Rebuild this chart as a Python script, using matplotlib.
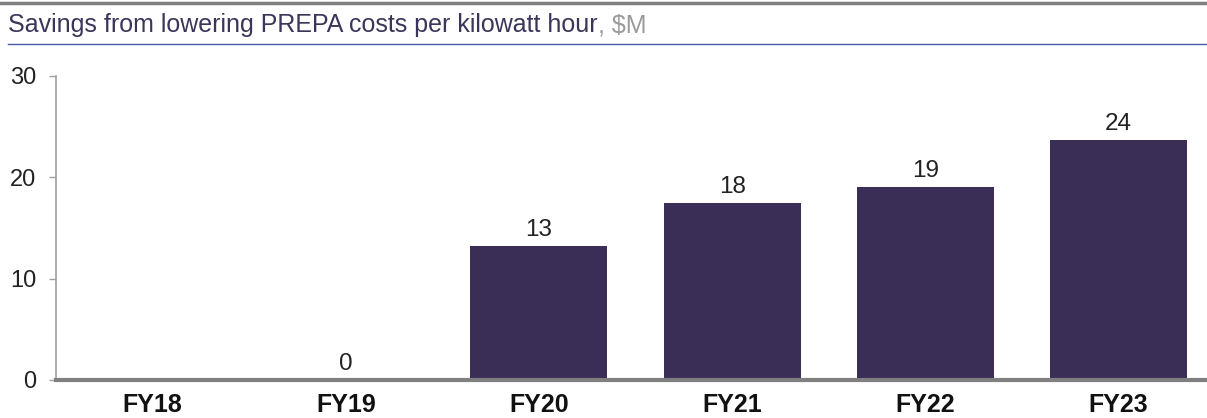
import matplotlib
matplotlib.use("Agg")
import matplotlib.pyplot as plt
import numpy as np

categories = ["FY18", "FY19", "FY20", "FY21", "FY22", "FY23"]
values = [np.nan, 0, 13.2, 17.5, 19.05, 23.7]
labels = ["", "0", "13", "18", "19", "24"]
yticks = [0, 10, 20, 30]

plt.rcParams['font.family'] = ['Liberation Sans', 'DejaVu Sans']

fig = plt.figure(figsize=(12.07, 4.18), dpi=100)
W, H = 1207, 418

# top gray rule
fig.add_artist(plt.Line2D([0, 1], [1 - 3/H, 1 - 3/H], color="#7f7f7f", lw=2.5, transform=fig.transFigure))
# title
t = fig.text(8/W, 1 - 25/H, "Savings from lowering PREPA costs per kilowatt hour", color="#3b3659",
             fontsize=18, va="center", ha="left")
fig.canvas.draw()
bb = t.get_window_extent()
fig.text(bb.x1 / W, 1 - 25/H, ", $M", color="#9a9a9a", fontsize=18, va="center", ha="left")
# blue underline
fig.add_artist(plt.Line2D([8/W, 1], [1 - 44/H, 1 - 44/H], color="#4a58a8", lw=1.0, transform=fig.transFigure))

left, right = 56/W, 1215/W
bottom, top = 1 - 380/H, 1 - 76/H
ax = fig.add_axes([left, bottom, right - left, top - bottom])
x = np.arange(len(categories))
ax.bar(x, values, width=0.71, color="#3a2d56", zorder=2)
for xi, v, lab in zip(x, values, labels):
    if lab:
        ax.text(xi, (0 if np.isnan(v) else v) + 0.5, lab, ha="center", va="bottom", fontsize=17.5, color="#222222")

ax.set_xlim(-0.5, len(categories) - 0.5)
ax.set_ylim(0, 30)
ax.set_yticks(yticks)
ax.set_xticks(x)
ax.set_xticklabels(categories, fontsize=18, fontweight="bold", color="#111111")
ax.tick_params(axis="x", length=0, pad=9)
ax.tick_params(axis="y", length=5, width=1, color="#a0a0a0", labelsize=17, labelcolor="#222222", pad=9)
for s in ["top", "right"]:
    ax.spines[s].set_visible(False)
ax.spines["left"].set_color("#a0a0a0")
ax.spines["left"].set_linewidth(1.2)
ax.spines["bottom"].set_color("#808080")
ax.spines["bottom"].set_linewidth(3)
ax.spines["bottom"].set_zorder(3)

fig.savefig("out.png", dpi=100)
